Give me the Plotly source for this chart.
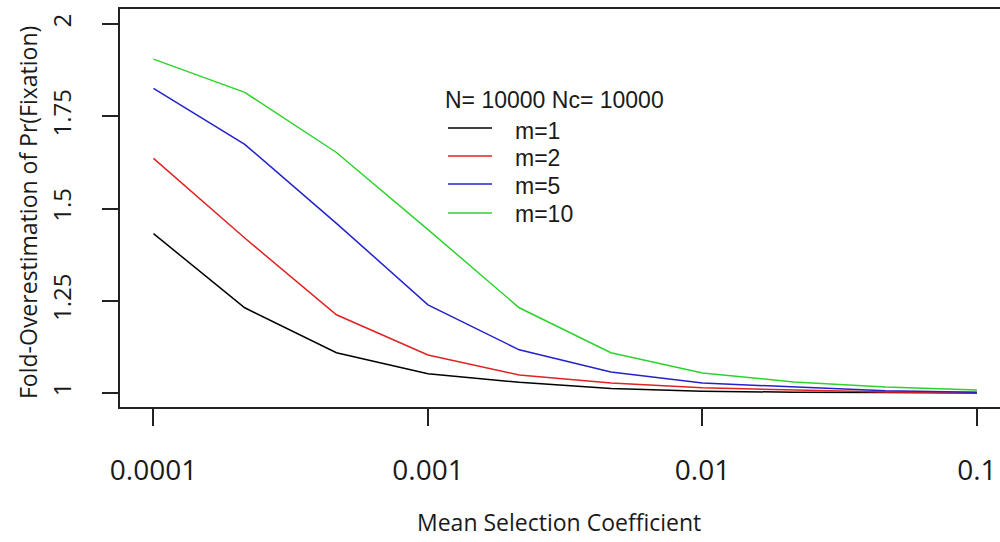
import plotly.graph_objects as go

# ---- data ----
sel_coef = [0.0001, 0.000215, 0.000464, 0.001, 0.00215, 0.00464, 0.01, 0.0215, 0.0464, 0.1]
m1 = [1.432, 1.231, 1.109, 1.052, 1.029, 1.012, 1.005, 1.002, 1.001, 1.000]
m2 = [1.636, 1.420, 1.212, 1.103, 1.049, 1.027, 1.014, 1.008, 1.003, 1.001]
m5 = [1.826, 1.674, 1.460, 1.239, 1.117, 1.057, 1.027, 1.016, 1.006, 1.002]
m10 = [1.905, 1.815, 1.652, 1.443, 1.231, 1.109, 1.054, 1.030, 1.016, 1.008]
series_names = ["m=1", "m=2", "m=5", "m=10"]
series_vals = [m1, m2, m5, m10]
series_colors = ["#000000", "#E02222", "#2222CC", "#2ED22E"]
x_tickvals = [0.0001, 0.001, 0.01, 0.1]
x_ticktext = ["0.0001", "0.001", "0.01", "0.1"]
y_tickvals = [1, 1.25, 1.5, 1.75, 2]
y_ticktext = ["1", "1.25", "1.5", "1.75", "2"]
legend_title = "N= 10000 Nc= 10000"

# ---- layout geometry (pixels) ----
W, H = 1000, 542
L, R, T, B = 120, 0, 9, 135
PW, PH = W - L - R, H - T - B


def px(xp):
    return (xp - L) / PW


def py(yp):
    return (H - B - yp) / PH


TXT = "#1a1a1a"
fig = go.Figure()
for name, vals, col in zip(series_names, series_vals, series_colors):
    fig.add_trace(go.Scatter(x=sel_coef, y=vals, mode="lines", name=name,
                             line=dict(color=col, width=1.5), showlegend=False))

shapes = []
annotations = []
# legend drawn manually
annotations.append(dict(text=legend_title, x=px(443), y=py(100), xref="paper", yref="paper",
                        xanchor="left", yanchor="middle", showarrow=False,
                        font=dict(family="Liberation Sans, Arial", size=23, color=TXT)))
leg_line_y = [128, 156, 184, 213]
leg_text_y = [131, 158, 186, 214]
for name, col, ly, ty in zip(series_names, series_colors, leg_line_y, leg_text_y):
    shapes.append(dict(type="line", xref="paper", yref="paper", x0=px(448), x1=px(492),
                       y0=py(ly), y1=py(ly), line=dict(color=col, width=1.5)))
    annotations.append(dict(text=name, x=px(513), y=py(ty), xref="paper", yref="paper",
                            xanchor="left", yanchor="middle", showarrow=False,
                            font=dict(family="Liberation Sans, Arial", size=23, color=TXT)))
# axis titles
annotations.append(dict(text="Mean Selection Coefficient", x=px(559), y=py(522), xref="paper",
                        yref="paper", xanchor="center", yanchor="middle", showarrow=False,
                        font=dict(family="Open Sans", size=23, color=TXT)))
annotations.append(dict(text="Fold-Overestimation of Pr(Fixation)", x=px(28), y=py(213),
                        xref="paper", yref="paper", xanchor="center", yanchor="middle",
                        textangle=-90, showarrow=False,
                        font=dict(family="Open Sans", size=23, color=TXT)))

fig.update_layout(
    width=W, height=H,
    margin=dict(l=L, r=R, t=T, b=B, pad=0),
    paper_bgcolor="white", plot_bgcolor="white",
    shapes=shapes, annotations=annotations,
    xaxis=dict(type="log", range=[-4.122, -0.916], tickvals=x_tickvals, ticktext=x_ticktext,
               showgrid=False, zeroline=False, showline=True, mirror=True,
               linecolor="#222", linewidth=1.5, ticks="outside", ticklen=17,
               tickwidth=1.5, tickcolor="#222", ticklabelstandoff=21,
               tickfont=dict(family="Open Sans", size=28, color=TXT)),
    yaxis=dict(range=[0.962, 2.041], tickvals=y_tickvals, ticktext=y_ticktext,
               showgrid=False, zeroline=False, showline=True, mirror=False,
               linecolor="#222", linewidth=1.5, ticks="outside", ticklen=16,
               tickwidth=1.5, tickcolor="#222", tickangle=-90, ticklabelstandoff=22,
               tickfont=dict(family="Open Sans", size=24, color=TXT)),
)
fig.write_html("out.html")
